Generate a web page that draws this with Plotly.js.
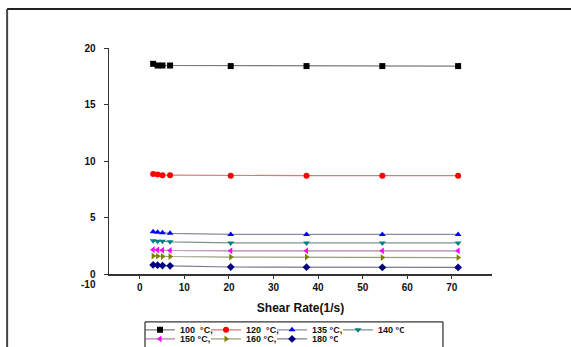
<!DOCTYPE html>
<html>
<head>
<meta charset="utf-8">
<script src="https://cdn.plot.ly/plotly-3.0.1.min.js"></script>
<style>html,body{margin:0;padding:0;background:#fff;}#chart{width:571px;height:347px;}</style>
</head>
<body>
<div id="chart"></div>
<script>
// Shear rate (1/s)
const shearRate = [3.0, 4.0, 5.1, 6.8, 20.4, 37.4, 54.4, 71.4];
// Values per temperature
const v100 = [18.6, 18.45, 18.45, 18.45, 18.4, 18.4, 18.4, 18.4];
const v120 = [8.85, 8.8, 8.75, 8.75, 8.7, 8.7, 8.7, 8.7];
const v135 = [3.75, 3.7, 3.65, 3.6, 3.5, 3.5, 3.5, 3.5];
const v140 = [2.95, 2.9, 2.9, 2.85, 2.75, 2.75, 2.75, 2.75];
const v150 = [2.15, 2.12, 2.1, 2.08, 2.05, 2.05, 2.05, 2.05];
const v160 = [1.6, 1.58, 1.55, 1.55, 1.5, 1.5, 1.45, 1.45];
const v180 = [0.8, 0.78, 0.75, 0.72, 0.62, 0.6, 0.58, 0.58];
const seriesNames = ["100  °C,", "120  °C,", "135 °C,", "140 °C", "150 °C,", "160 °C,", "180 °C"];
const xTickVals = [0, 10, 20, 30, 40, 50, 60, 70];
const yTickVals = [0, 5, 10, 15, 20];

const seriesData = [v100, v120, v135, v140, v150, v160, v180];
const colors = ["#000000", "#ff0000", "#0000ff", "#008080", "#ff00ff", "#808000", "#000080"];
const lineColors = ["rgba(90,90,90,0.8)", "rgba(200,90,90,0.8)", "rgba(110,110,140,0.8)", "rgba(90,120,120,0.8)", "rgba(150,100,150,0.8)", "rgba(130,130,100,0.8)", "rgba(90,90,120,0.8)"];
const symbols = ["square", "circle", "triangle-up", "triangle-down", "triangle-left", "triangle-right", "diamond"];

const traces = seriesData.map((ys, i) => ({
  x: shearRate, y: ys, name: seriesNames[i], type: "scatter", mode: "lines+markers",
  legend: i < 4 ? "legend" : "legend2",
  line: {color: lineColors[i], width: 1.2},
  marker: {symbol: symbols[i], size: 6, color: colors[i]}
}));

const font = {family: "Liberation Sans, Arial, sans-serif", color: "#111"};
const legFont = {family: font.family, size: 9, color: "#111", weight: "bold"};
const legCommon = {
  orientation: "h", xanchor: "left", yanchor: "top",
  borderwidth: 0, bgcolor: "rgba(0,0,0,0)", entrywidth: 21, itemwidth: 30,
  font: legFont
};
const layout = {
  width: 571, height: 347,
  margin: {l: 109, r: 79, t: 48, b: 73, autoexpand: false},
  paper_bgcolor: "#fff", plot_bgcolor: "#fff",
  font: font,
  showlegend: true,
  legend: Object.assign({x: 0.081, y: -0.183}, legCommon),
  legend2: Object.assign({x: 0.081, y: -0.223}, legCommon),
  xaxis: {
    range: [-6.9, 79], tickvals: xTickVals, showgrid: false, zeroline: false,
    showline: true, linecolor: "#333", linewidth: 1.5,
    ticks: "outside", ticklen: 3, tickcolor: "#333",
    tickfont: {family: font.family, size: 10, color: "#111", weight: "bold"},
    title: {text: "Shear Rate(1/s)", font: {family: font.family, size: 12, color: "#111", weight: "bold"}, standoff: 12}
  },
  yaxis: {
    range: [0, 20], tickvals: yTickVals, showgrid: false, zeroline: false,
    showline: true, linecolor: "#333", linewidth: 1.5,
    ticks: "outside", ticklen: 4, tickcolor: "#333", ticklabelstandoff: 6,
    tickfont: {family: font.family, size: 10, color: "#111", weight: "bold"}
  },
  annotations: [{
    text: "-10", xref: "x", x: -6.9, xshift: -21, yref: "paper", y: 0, yshift: -10,
    showarrow: false, xanchor: "center", yanchor: "middle",
    font: {family: font.family, size: 10, color: "#111", weight: "bold"}
  }],
  shapes: [
    {type: "line", xref: "paper", yref: "paper", x0: -0.266, x1: 1.3, y0: 1.173, y1: 1.173, line: {color: "#222", width: 2}},
    {type: "line", xref: "paper", yref: "paper", x0: -0.266, x1: -0.266, y0: 1.173, y1: -0.4, line: {color: "#444", width: 2}},
    {type: "rect", xref: "paper", yref: "paper", x0: 0.094, x1: 0.872, y0: -0.212, y1: -0.4, line: {color: "#000", width: 1}}
  ]
};
Plotly.newPlot("chart", traces, layout, {displayModeBar: false, staticPlot: true});
</script>
</body>
</html>
